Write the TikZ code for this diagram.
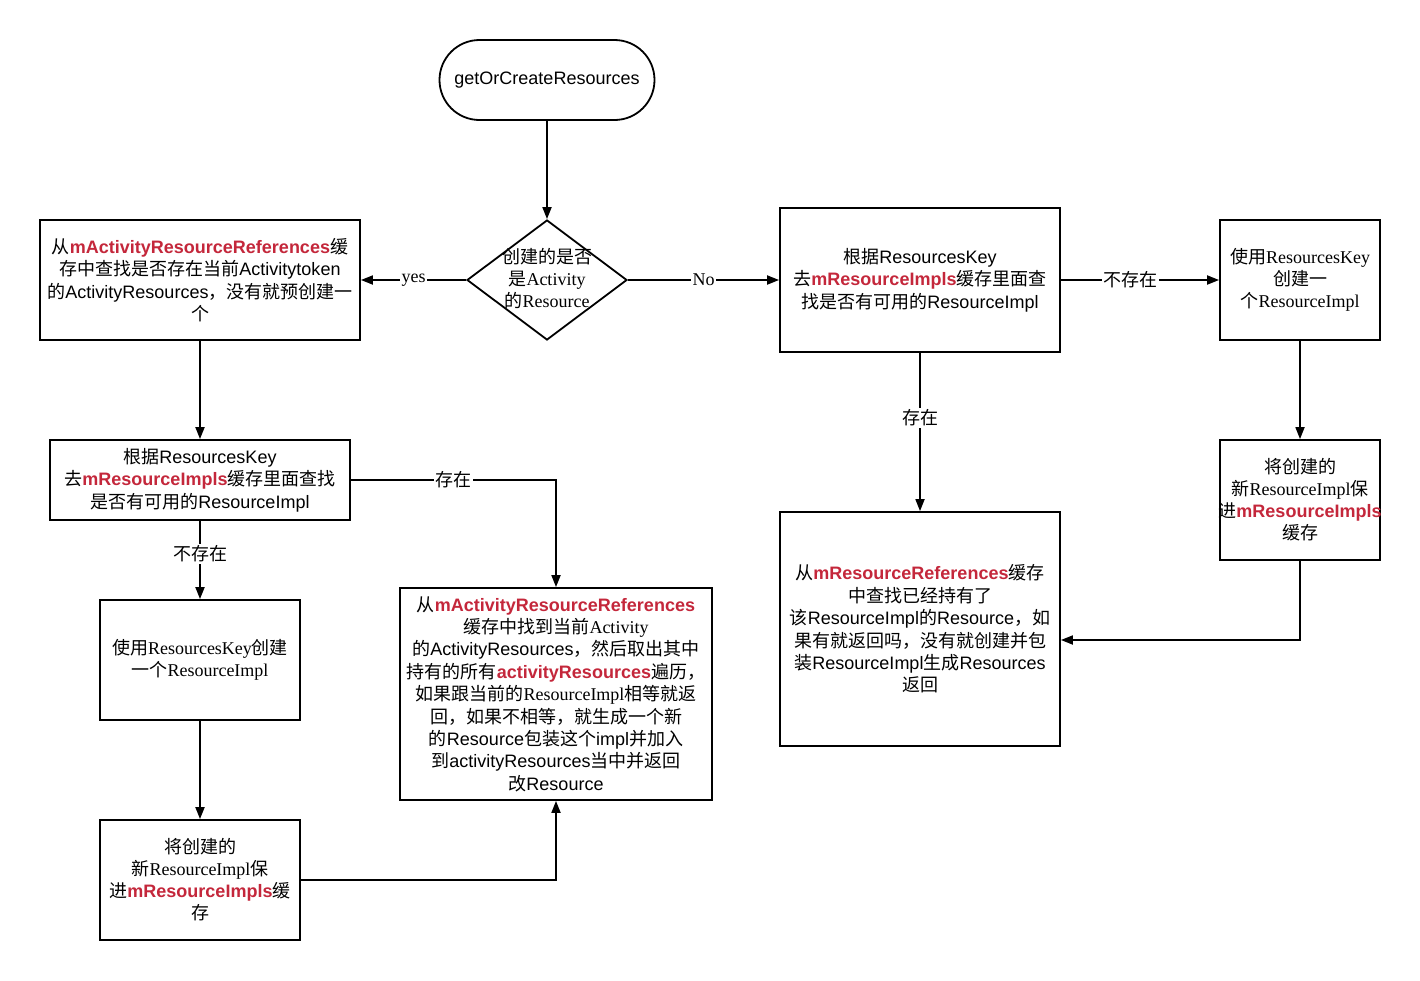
\documentclass[tikz,border=0pt]{standalone}
\usepackage{fontspec}
\usetikzlibrary{arrows.meta,shapes.geometric}
\setmainfont{Liberation Sans}
\newfontfamily\sansl{Liberation Sans}
\newfontfamily\serifl{Liberation Serif}
\newfontfamily\cjkfont{Noto Sans CJK SC}
\definecolor{keyred}{RGB}{196,39,59}
% Chinese characters go to the CJK font, the rest to \curlatin
\def\curlatin{\sansl}
\XeTeXinterchartokenstate=1
\newXeTeXintercharclass\cjkclass
\newcount\cjkcode
\cjkcode="3000
\loop \XeTeXcharclass\cjkcode=\cjkclass \advance\cjkcode by 1 \ifnum\cjkcode<"A000 \repeat
\cjkcode="FF00
\loop \XeTeXcharclass\cjkcode=\cjkclass \advance\cjkcode by 1 \ifnum\cjkcode<"FFF0 \repeat
\XeTeXinterchartoks 0 \cjkclass = {\cjkfont}
\XeTeXinterchartoks 4095 \cjkclass = {\cjkfont}
\XeTeXinterchartoks \cjkclass 0 = {\curlatin}
\XeTeXinterchartoks \cjkclass 4095 = {\curlatin}
\newcommand\useserif{\def\curlatin{\serifl}\serifl}
\newcommand\ser[1]{{\useserif #1}}
\newcommand\keyword[1]{{\color{keyred}\def\curlatin{\sansl\bfseries}\curlatin #1}}
\tikzset{
  box/.style={draw, line width=1.8pt, rectangle, align=center, inner xsep=1pt, inner ysep=2pt},
  decision/.style={draw, line width=1.8pt, diamond, minimum width=160pt, minimum height=120pt, inner sep=0pt},
  flow/.style={line width=1.8pt, -{Triangle[length=12pt,width=9pt]}},
  lbl/.style={fill=white, inner sep=1.5pt, font=\fontsize{18}{22}\selectfont\useserif},
  serifbox/.style={font=\fontsize{18}{22}\selectfont\useserif},
}
\begin{document}
\begin{tikzpicture}[x=1pt, y=-1pt, every node/.style={font=\fontsize{18}{22.4}\selectfont}]
\useasboundingbox[fill=white] (0,0) rectangle (1420,980);

\node[box, rounded corners=40pt, minimum width=215pt, minimum height=80pt] (start) at (547,80) {getOrCreateResources};
\node[decision, label={[align=center, serifbox, yshift=2pt]center:{创建的是否\\是Activity\\的Resource}}] (check) at (547,280) {};

% left branch
\node[box, minimum width=320pt, minimum height=120pt] (lookupAct) at (200,280)
  {从\keyword{mActivityResourceReferences}缓\\存中查找是否存在当前Activitytoken\\的ActivityResources，没有就预创建一\\个};
\node[box, minimum width=300pt, minimum height=80pt] (implL) at (200,480)
  {根据ResourcesKey\\去\keyword{mResourceImpls}缓存里面查找\\是否有可用的ResourceImpl};
\node[box, serifbox, minimum width=200pt, minimum height=120pt] (createL) at (200,660)
  {使用ResourcesKey创建\\一个ResourceImpl};
\node[box, serifbox, minimum width=200pt, minimum height=120pt] (saveL) at (200,880)
  {将创建的\\新ResourceImpl保\\进\keyword{mResourceImpls}缓\\存};
\node[box, minimum width=312pt, minimum height=212pt] (wrapAct) at (556,694)
  {从\keyword{mActivityResourceReferences}\\\ser{缓存中找到当前Activity}\\的ActivityResources，然后取出其中\\持有的所有\keyword{activityResources}遍历，\\如果跟当前的\ser{ResourceImpl}相等就返\\回，如果不相等，就生成一个新\\的Resource包装这个impl并加入\\到activityResources当中并返回\\改Resource};

% right branch
\node[box, minimum width=280pt, minimum height=144pt] (implB) at (920,280)
  {根据ResourcesKey\\去\keyword{mResourceImpls}缓存里面查\\找是否有可用的ResourceImpl};
\node[box, serifbox, minimum width=160pt, minimum height=120pt] (createR) at (1300,280)
  {使用ResourcesKey\\创建一\\个ResourceImpl};
\node[box, serifbox, minimum width=160pt, minimum height=120pt] (saveR) at (1300,500)
  {将创建的\\新ResourceImpl保\\\makebox[150pt]{进\keyword{mResourceImpls}}\\缓存};
\node[box, minimum width=280pt, minimum height=234pt] (lookupRef) at (920,629)
  {从\keyword{mResourceReferences}缓存\\中查找已经持有了\\该ResourceImpl的Resource，如\\果有就返回吗，没有就创建并包\\装ResourceImpl生成Resources\\返回};

\draw[flow] (start) -- (check);
\draw[flow] (check.west) -- node[lbl] {yes} (lookupAct.east);
\draw[flow] (check.east) -- node[lbl] {No} (implB.west);
\draw[flow] (implB.east) -- node[lbl, pos=0.44] {不存在} (createR.west);
\draw[flow] (lookupAct) -- (implL);
\draw[flow] (implL.east) -| node[lbl, pos=0.25] {存在} (wrapAct.north);
\draw[flow] (implL.south) -- node[lbl, pos=0.42] {不存在} (createL.north);
\draw[flow] (createL) -- (saveL);
\draw[flow] (saveL.east) -| (wrapAct.south);
\draw[flow] (implB.south) -- node[lbl, pos=0.41] {存在} (lookupRef.north);
\draw[flow] (createR) -- (saveR);
\draw[flow] (saveR.south) |- ([yshift=-11pt]lookupRef.east);
\end{tikzpicture}
\end{document}
